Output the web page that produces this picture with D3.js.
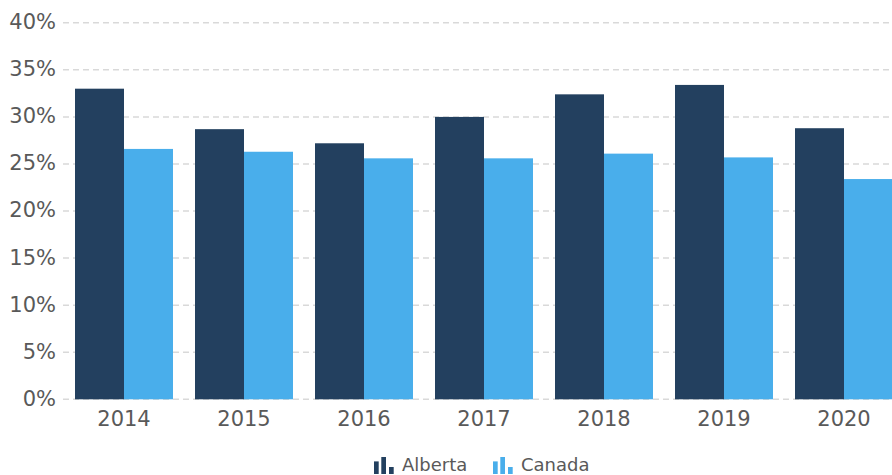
<!DOCTYPE html>
<html>
<head>
<meta charset="utf-8">
<script src="https://cdn.jsdelivr.net/npm/d3@7"></script>
<style>
  html, body { margin: 0; padding: 0; background: #fff; }
  svg { display: block; font-family: "DejaVu Sans", Verdana, sans-serif; }
</style>
</head>
<body>
<svg id="chart" width="892" height="475"></svg>
<script>
const years = ["2014", "2015", "2016", "2017", "2018", "2019", "2020"];
const seriesNames = ["Alberta", "Canada"];
const alberta = [33.0, 28.7, 27.2, 30.0, 32.4, 33.4, 28.8];
const canada = [26.6, 26.3, 25.6, 25.6, 26.1, 25.7, 23.4];
const yTicks = [0, 5, 10, 15, 20, 25, 30, 35, 40];
const colors = ["#23405f", "#49aeeb"];

const svg = d3.select("#chart");
const seriesValues = [alberta, canada];

const x = d3.scaleBand().domain(years).range([64, 904])
  .paddingInner(22 / 120).paddingOuter(11 / 120);
const xs = d3.scaleBand().domain(seriesNames).range([0, x.bandwidth()]);
const y = d3.scaleLinear().domain([0, 40]).range([399.3, 22.8]);

// gridlines
svg.append("g").selectAll("line").data(yTicks).join("line")
  .attr("x1", 63).attr("x2", 892)
  .attr("y1", d => y(d)).attr("y2", d => y(d))
  .attr("stroke", "#d9d9d9").attr("stroke-width", 1.5)
  .attr("stroke-dasharray", "6,4");

// y labels
const yAxis = d3.axisLeft(y).tickValues(yTicks).tickFormat(d => d + "%").tickSize(0).tickPadding(0);
const gy = svg.append("g").attr("transform", "translate(56,0)").call(yAxis);
gy.select(".domain").remove();
gy.selectAll("text").attr("fill", "#595959").style("font-size", "21px")
  .style("font-family", "DejaVu Sans, Verdana, sans-serif").attr("dy", "0.28em");

// bars
const data = [];
years.forEach((yr, i) => seriesNames.forEach((s, j) => data.push({ yr, s, v: seriesValues[j][i], j })));
svg.append("g").selectAll("rect").data(data).join("rect")
  .attr("x", d => x(d.yr) + xs(d.s))
  .attr("width", xs.bandwidth())
  .attr("y", d => y(d.v))
  .attr("height", d => y(0) - y(d.v))
  .attr("fill", d => colors[d.j]);

// x labels
const xAxis = d3.axisBottom(x).tickSize(0).tickPadding(0);
const gx = svg.append("g").attr("transform", "translate(0,411)").call(xAxis);
gx.select(".domain").remove();
gx.selectAll("text").attr("fill", "#595959").style("font-size", "21px")
  .style("font-family", "DejaVu Sans, Verdana, sans-serif").attr("dy", "0.71em");

// legend
const legendPos = [374, 493];
const lg = svg.append("g");
seriesNames.forEach((s, j) => {
  const g = lg.append("g").attr("transform", `translate(${legendPos[j]},0)`);
  const bars = [[0, 12.6], [7.3, 17], [15, 7]];
  bars.forEach(([bx, h]) => {
    g.append("rect").attr("x", bx).attr("y", 474 - h).attr("width", 4.7).attr("height", h)
      .attr("fill", colors[j]);
  });
  g.append("text").attr("x", 28).attr("y", 470.5).text(s)
    .attr("fill", "#595959").style("font-size", "18px");
});
</script>
</body>
</html>
